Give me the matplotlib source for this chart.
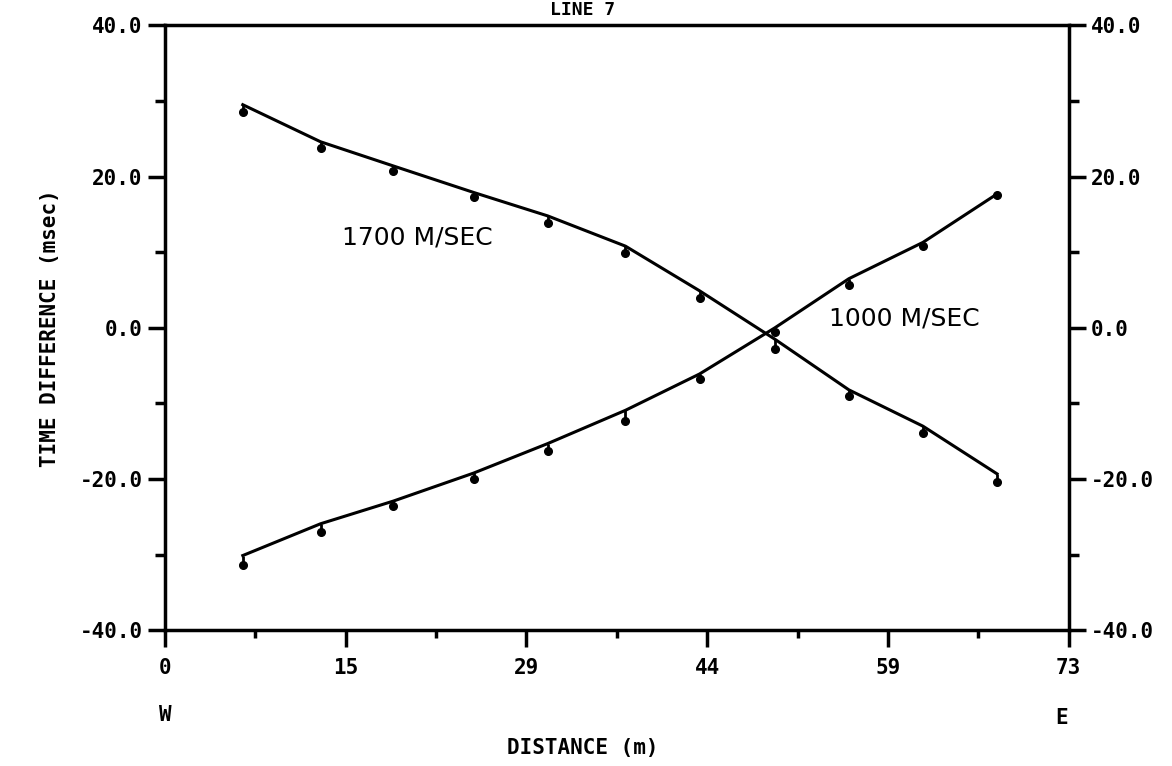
import matplotlib.pyplot as plt
import numpy as np

# Data
distance = [6.3, 12.6, 18.5, 25.0, 31.0, 37.3, 43.3, 49.4, 55.4, 61.4, 67.4]

# 1700 m/sec branch (decreasing)
fast_obs = [28.6, 23.8, 20.7, 17.3, 13.8, 9.9, 4.0, -2.8, -9.0, -13.9, -20.4]
fast_fit = [29.5, 24.6, 21.4, 17.9, 14.8, 10.8, 4.9, -1.5, -8.2, -13.0, -19.3]

# 1000 m/sec branch (increasing)
slow_obs = [-31.4, -27.0, -23.6, -20.0, -16.3, -12.3, -6.8, -0.5, 5.7, 10.8, 17.5]
slow_fit = [-30.1, -25.9, -22.9, -19.2, -15.3, -10.9, -6.1, 0.0, 6.5, 11.3, 17.7]

x_tick_pos = [0, 14.64, 29.28, 43.92, 58.56, 73.2]
x_tick_labels = ['0', '15', '29', '44', '59', '73']
y_ticks = [-40, -20, 0, 20, 40]
y_tick_labels = ['-40.0', '-20.0', '0.0', '20.0', '40.0']


def main():
    mono = {'family': 'DejaVu Sans Mono', 'weight': 'bold'}

    fig = plt.figure(figsize=(11.72, 7.66), dpi=100)
    ax = fig.add_axes([0.1408, 0.177, 0.771, 0.79])

    # fitted curves
    ax.plot(distance, fast_fit, 'k-', lw=2.2)
    ax.plot(distance, slow_fit, 'k-', lw=2.2)

    # observed points with short stems up to the curve
    ax.vlines(distance, fast_obs, fast_fit, colors='k', lw=2)
    ax.vlines(distance, slow_obs, slow_fit, colors='k', lw=2)
    ax.plot(distance, fast_obs, 'ko', ms=5.5)
    ax.plot(distance, slow_obs, 'ko', ms=5.5)

    ax.text(14.3, 12.0, '1700 M/SEC', fontsize=18, va='center', ha='left')
    ax.text(53.8, 1.2, '1000 M/SEC', fontsize=18, va='center', ha='left')

    ax.set_xlim(0, 73.2)
    ax.set_ylim(-40, 40)

    ax.set_xticks(x_tick_pos)
    ax.set_xticklabels(x_tick_labels, fontdict=mono, fontsize=15)
    ax.set_xticks([(a + b) / 2 for a, b in zip(x_tick_pos[:-1], x_tick_pos[1:])], minor=True)
    ax.set_yticks(y_ticks)
    ax.set_yticklabels(y_tick_labels, fontdict=mono, fontsize=15)
    ax.set_yticks([-30, -10, 10, 30], minor=True)

    ax.tick_params(axis='x', which='major', direction='out', length=12, width=2.5, pad=8)
    ax.tick_params(axis='x', which='minor', direction='out', length=6, width=2.5)
    ax.tick_params(axis='y', which='major', direction='out', length=12, width=2.5, pad=4)
    ax.tick_params(axis='y', which='minor', direction='out', length=7, width=2.5)
    ax.tick_params(axis='y', which='both', right=True, labelright=True)

    for spine in ax.spines.values():
        spine.set_linewidth(2.5)

    ax.set_ylabel('TIME DIFFERENCE (msec)', fontdict=mono, fontsize=15, labelpad=14)
    fig.text(0.497, 0.023, 'DISTANCE (m)', ha='center', va='center', fontdict=mono, fontsize=15)
    fig.text(0.1408, 0.066, 'W', ha='center', va='center', fontdict=mono, fontsize=15)
    fig.text(0.906, 0.063, 'E', ha='center', va='center', fontdict=mono, fontsize=15)
    fig.text(0.497, 0.999, 'LINE 7', ha='center', va='top', fontdict=mono, fontsize=13)

    fig.savefig('out.png', dpi=100)


if __name__ == '__main__':
    main()
